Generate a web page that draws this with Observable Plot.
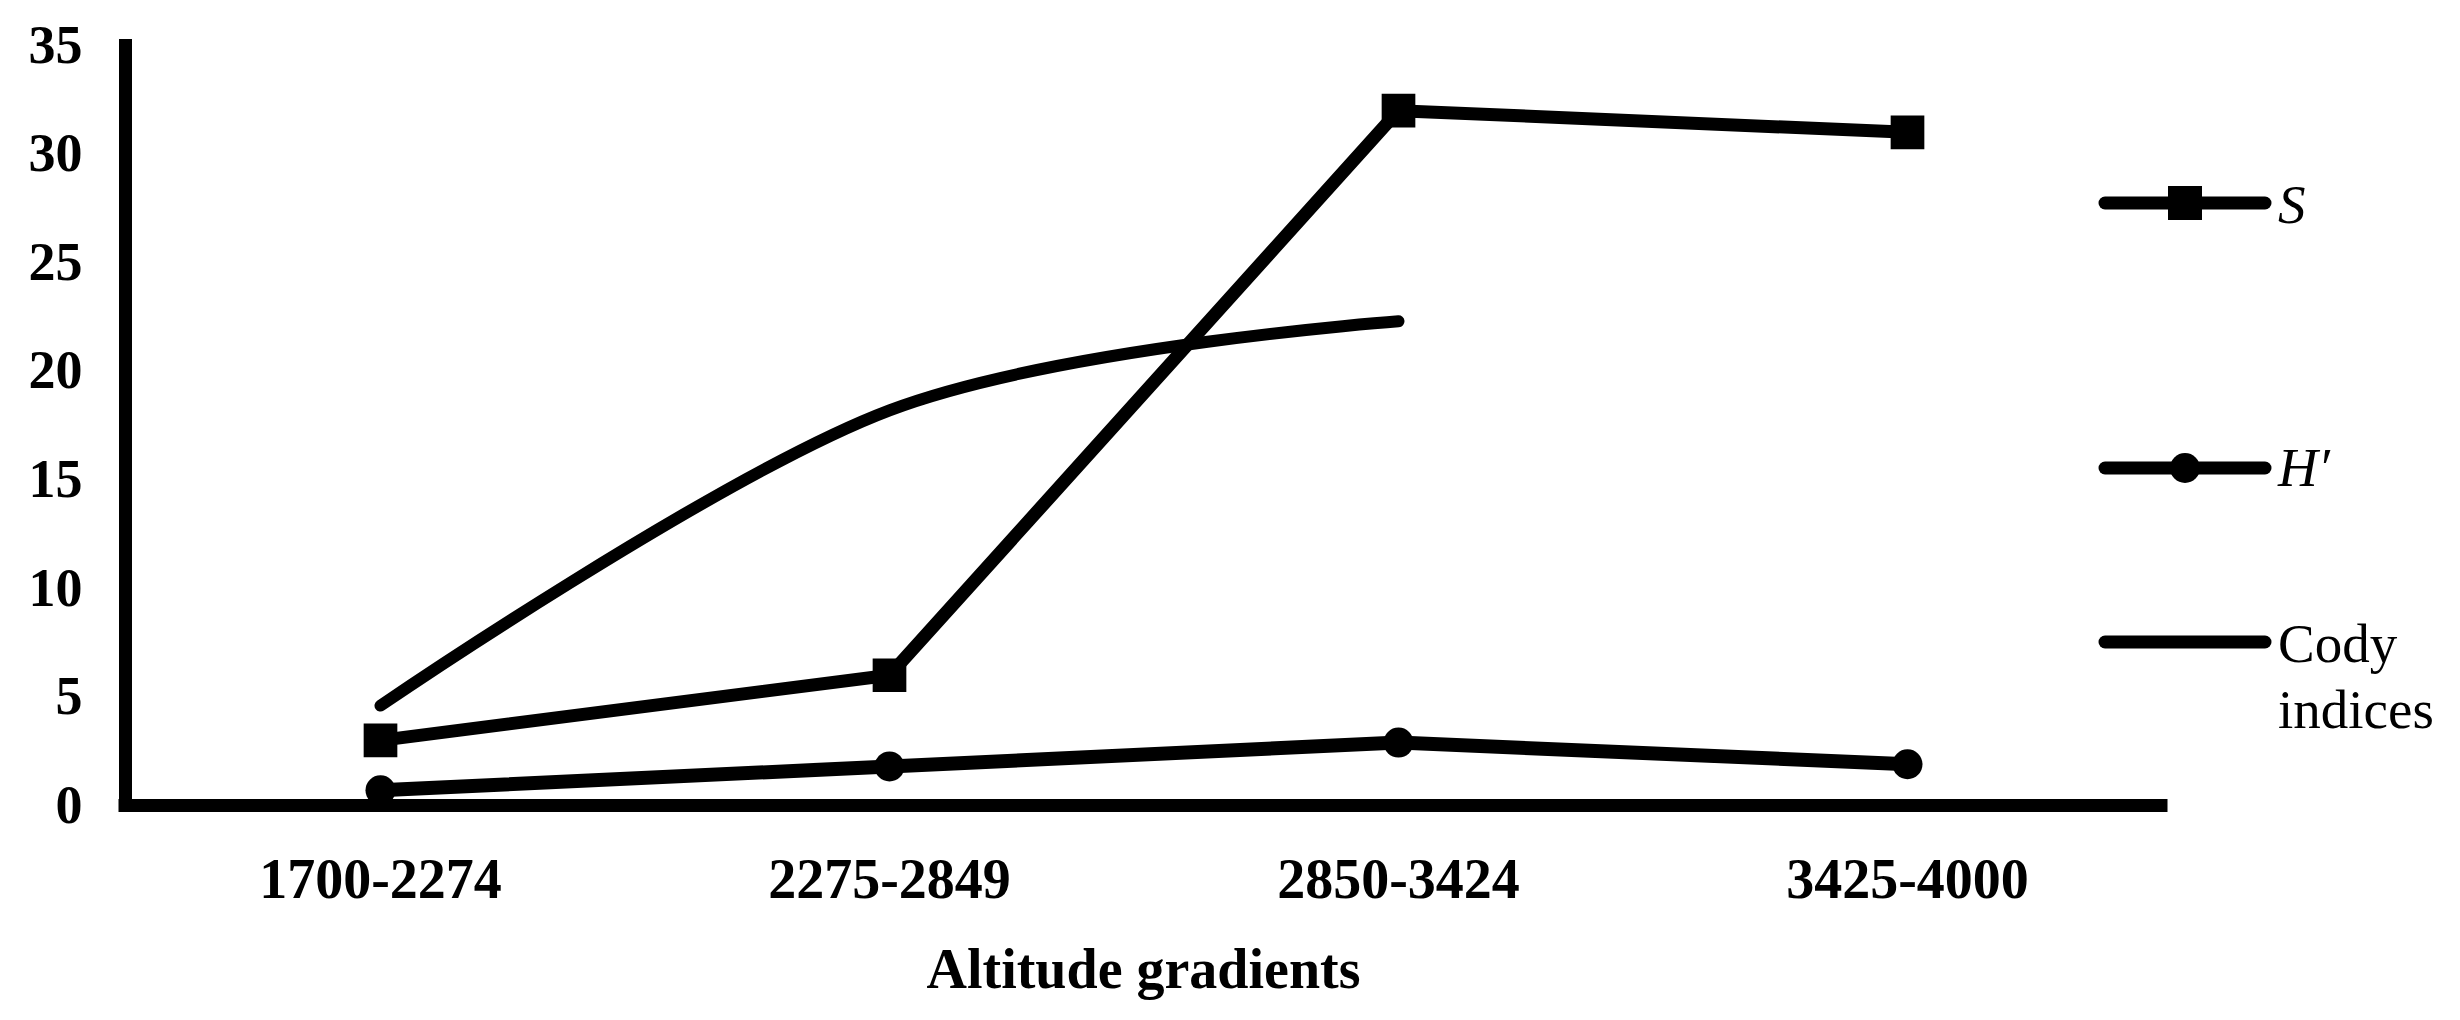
<!DOCTYPE html>
<html>
<head>
<meta charset="utf-8">
<script src="https://cdn.jsdelivr.net/npm/d3@7"></script>
<script src="https://cdn.jsdelivr.net/npm/@observablehq/plot@0.6"></script>
<style>
  html, body { margin: 0; padding: 0; background: #fff; }
  #wrap { position: relative; width: 2460px; height: 1020px; overflow: hidden; }
  .legsym { position: absolute; left: 2098px; }
  .legtxt { position: absolute; left: 2278px; font-family: "Liberation Serif", "Times New Roman", serif; font-size: 55px; line-height: 66px; color: #000; white-space: nowrap; }
</style>
</head>
<body>
<div id="wrap">
  <div id="chart"></div>
  <svg class="legsym" style="top:183px" width="175" height="40">
    <line x1="7" x2="167" y1="20" y2="20" stroke="#000" stroke-width="13" stroke-linecap="round"/>
    <rect x="70" y="3" width="34" height="34" fill="#000"/>
  </svg>
  <div class="legtxt" style="top:172px;font-style:italic">S</div>
  <svg class="legsym" style="top:448px" width="175" height="40">
    <line x1="7" x2="167" y1="20" y2="20" stroke="#000" stroke-width="13" stroke-linecap="round"/>
    <circle cx="87" cy="20" r="15" fill="#000"/>
  </svg>
  <div class="legtxt" style="top:435px;font-style:italic">H′</div>
  <svg class="legsym" style="top:622px" width="175" height="40">
    <line x1="7" x2="167" y1="20" y2="20" stroke="#000" stroke-width="13" stroke-linecap="round"/>
  </svg>
  <div class="legtxt" style="top:611px">Cody<br>indices</div>
</div>
<script>
const gradients = ["1700-2274", "2275-2849", "2850-3424", "3425-4000"];
const sValues = [3, 6, 32, 31];
const hValues = [0.7, 1.8, 2.9, 1.9];
const codyValues = [4.6, 18.2, 22.3];
const yTicks = [0, 5, 10, 15, 20, 25, 30, 35];

const sRows = sValues.map((v, i) => ({g: gradients[i], v}));
const hRows = hValues.map((v, i) => ({g: gradients[i], v}));
const codyRows = codyValues.map((v, i) => ({g: gradients[i], v}));

const chart = Plot.plot({
  width: 2460,
  height: 1020,
  marginLeft: 125,
  marginRight: 299,
  marginTop: 45,
  marginBottom: 215,
  style: {
    fontFamily: '"Liberation Serif", "Times New Roman", serif',
    fontSize: "55px",
    fontWeight: "bold",
    color: "#000",
    background: "#fff"
  },
  x: {type: "point", domain: gradients, padding: 0.5},
  y: {domain: [0, 35]},
  marks: [
    Plot.axisY({ticks: yTicks, tickSize: 0, tickPadding: 43, label: null, fontSize: 54}),
    Plot.axisX({tickSize: 0, tickPadding: 53, label: "Altitude gradients", labelAnchor: "center", labelOffset: 182, fontSize: 56}),
    Plot.line(codyRows, {x: "g", y: "v", curve: "cardinal", stroke: "#000", strokeWidth: 12}),
    Plot.line(sRows, {x: "g", y: "v", stroke: "#000", strokeWidth: 13}),
    Plot.line(hRows, {x: "g", y: "v", stroke: "#000", strokeWidth: 14}),
    Plot.dot(sRows, {x: "g", y: "v", symbol: "square", r: 19, fill: "#000"}),
    Plot.dot(hRows, {x: "g", y: "v", symbol: "circle", r: 15, fill: "#000"}),
    Plot.frame({anchor: "left", stroke: "#000", strokeWidth: 13}),
    Plot.ruleY([0], {stroke: "#000", strokeWidth: 13, strokeLinecap: "square"})
  ]
});
document.getElementById("chart").appendChild(chart);
</script>
</body>
</html>
